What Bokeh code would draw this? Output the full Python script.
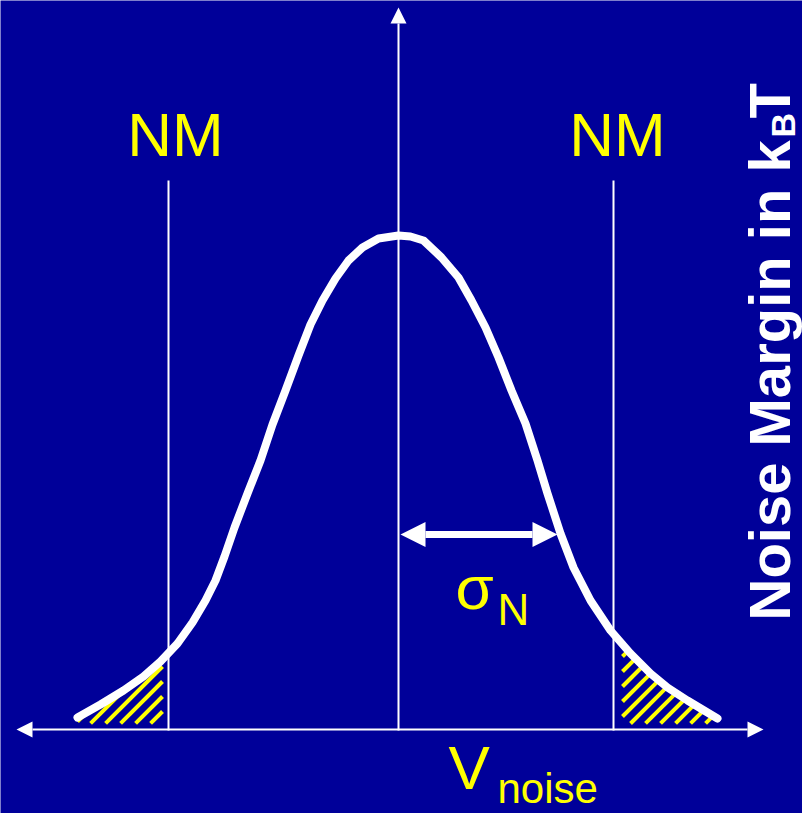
import numpy as np
from bokeh.plotting import figure
from bokeh.models import Range1d, Arrow, NormalHead, Label
from bokeh.embed import file_html
from bokeh.resources import INLINE

BG = "#000099"
YELLOW = "#FFFF00"
WHITE = "#FFFFFF"

# Noise distribution sketch: V_noise offset (x) and relative probability height (y)
curve_x = [-321, -298, -275, -255, -238, -221, -206, -193, -183, -174, -164, -151,
           -138, -126, -113, -100, -88, -76, -63, -50, -36, -20, 0,
           12, 25, 43, 60, 73, 87, 100, 113, 127, 139, 149, 162, 175, 192,
           212, 232, 252, 269, 289, 319]
curve_y = [13, 26, 40, 54, 69, 87, 108, 130, 150, 174, 203, 237,
           270, 306, 340, 375, 406, 430, 452, 470, 483, 492, 495,
           494, 490, 473, 453, 430, 403, 373, 340, 307, 270, 237, 197, 163, 130,
           100, 77, 57, 43, 30, 12]

# Noise-margin positions and sigma
nm_x = [-230, 215]
nm_top = 550
sigma_start, sigma_end, sigma_y = 2, 159, 196

# Shaded tail limits (beyond the noise margins)
left_tail = (-321, -236)
right_tail = (224, 317)
tail_floor = 7
stripe_gap = 15

cx = np.array(curve_x, dtype=float)
cy = np.array(curve_y, dtype=float)


def tail_stripes(lo, hi):
    """45-degree stripes (y = x - c) clipped to the area under the curve."""
    grid = np.linspace(lo, hi, 800)
    top = np.interp(grid, cx, cy)
    c_min = lo - top.max()
    c_max = hi - tail_floor
    xs, ys = [], []
    for c in np.arange(np.floor(c_min / stripe_gap) * stripe_gap, c_max + stripe_gap, stripe_gap):
        yline = grid - c
        inside = (yline >= tail_floor) & (yline <= top)
        if inside.sum() < 2:
            continue
        xin = grid[inside]
        x0, x1 = xin.min(), xin.max()
        xs.append([x0, x1])
        ys.append([x0 - c, x1 - c])
    return xs, ys


p = figure(width=802, height=813, output_backend="svg", toolbar_location=None,
           x_range=Range1d(-398, 404), y_range=Range1d(-83, 730),
           x_axis_type=None, y_axis_type=None, min_border=0,
           background_fill_color=BG, border_fill_color=BG, outline_line_color=None)
p.grid.visible = False

# hatched tails
for lo, hi in (left_tail, right_tail):
    sx, sy = tail_stripes(lo, hi)
    p.multi_line(xs=sx, ys=sy, line_color=YELLOW, line_width=4, line_cap="butt")

# noise margin lines
for x in nm_x:
    p.segment(x0=[x], y0=[0], x1=[x], y1=[nm_top], line_color=WHITE, line_width=2)

# axes with arrow heads
p.add_layout(Arrow(x_start=0, y_start=0, x_end=0, y_end=723,
                   line_color=WHITE, line_width=2,
                   end=NormalHead(size=16, fill_color=WHITE, line_color=WHITE, line_width=0)))
p.add_layout(Arrow(x_start=-382, y_start=1, x_end=365, y_end=1,
                   line_color=WHITE, line_width=2,
                   start=NormalHead(size=16, fill_color=WHITE, line_color=WHITE, line_width=0),
                   end=NormalHead(size=16, fill_color=WHITE, line_color=WHITE, line_width=0)))

# the distribution curve
p.line(cx, cy, line_color=WHITE, line_width=8, line_cap="round", line_join="round")

# sigma double arrow
p.add_layout(Arrow(x_start=sigma_start, y_start=sigma_y, x_end=sigma_end, y_end=sigma_y,
                   line_color=WHITE, line_width=7,
                   start=NormalHead(size=25, fill_color=WHITE, line_color=WHITE, line_width=0),
                   end=NormalHead(size=25, fill_color=WHITE, line_color=WHITE, line_width=0)))

FONT = "Liberation Sans"


def label(x, y, text, size, color=YELLOW, align="left", angle=0, style="normal"):
    p.add_layout(Label(x=x, y=y, text=text, text_font=FONT, text_font_size=f"{size}px",
                       text_color=color, text_align=align, text_baseline="alphabetic",
                       angle=angle, text_font_style=style))


label(-223, 596, "NM", 62, align="center")
label(219, 596, "NM", 62, align="center")
label(50, -37, "V", 62)
label(99, -58, "noise", 42)
label(57, 143, "σ", 62)
label(99, 121, "N", 44)

label(371, 110, "Noise Margin in k", 58, color=WHITE, angle=np.pi / 2, style="bold")
label(384, 593, "B", 34, color=WHITE, angle=np.pi / 2, style="bold")
label(371, 612, "T", 58, color=WHITE, angle=np.pi / 2, style="bold")

open("out.html", "w").write(file_html(p, INLINE))
